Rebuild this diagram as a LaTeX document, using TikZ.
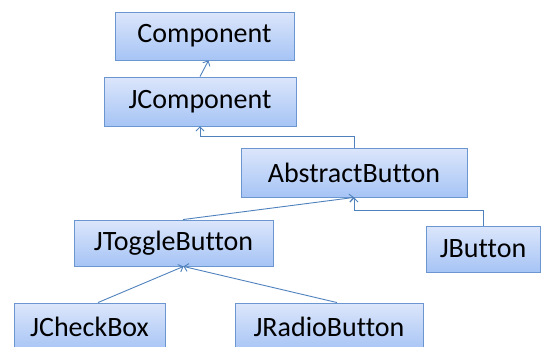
\documentclass[tikz,border=0pt]{standalone}
\usepackage{fontspec}
\setmainfont[Ligatures={NoCommon}]{Carlito}
\usetikzlibrary{arrows.meta}
\definecolor{boxtop}{HTML}{DCE6FB}
\definecolor{boxbot}{HTML}{A6C4F5}
\definecolor{boxline}{HTML}{6C96D0}
\definecolor{conn}{HTML}{4F81BD}
\begin{document}
\begin{tikzpicture}[x=1pt,y=-1pt,
  cls/.style={draw=boxline, line width=0.9pt, top color=boxtop, bottom color=boxbot,
    rectangle, inner sep=0pt, font=\fontsize{28}{30}\selectfont, text=black},
  conn/.style={draw=conn, line width=0.9pt, -{Straight Barb[length=4pt,width=8pt]}}]
\useasboundingbox (0,0) rectangle (547,346);
\node[cls, minimum width=179pt, minimum height=48pt] (comp) at (204.5,36) {Component};
\node[cls, minimum width=192pt, minimum height=49pt] (jcomp) at (200,101.5) {JComponent};
\node[cls, minimum width=226pt, minimum height=49pt] (abs) at (354,172.5) {AbstractButton};
\node[cls, minimum width=199pt, minimum height=46pt] (tog) at (173.5,243) {JToggleButton};
\node[cls, minimum width=114pt, minimum height=46pt] (btn) at (483,249) {JButton};
\node[cls, minimum width=151pt, minimum height=48pt] (chk) at (89.5,327) {JCheckBox};
\node[cls, minimum width=188pt, minimum height=48pt] (rad) at (329,327) {JRadioButton};
\draw[conn] (jcomp.north) -- ([xshift=4pt]comp.south);
\draw[conn] (abs.north) -- ++(0,-11) -| (jcomp.south);
\draw[conn] ([xshift=9.5pt]tog.north) -- (abs.south);
\draw[conn] (btn.north) -- ++(0,-15) -| (abs.south);
\draw[conn] ([xshift=8.5pt]chk.north) -- ([xshift=10pt]tog.south);
\draw[conn] ([xshift=8pt]rad.north) -- ([xshift=10pt]tog.south);
\end{tikzpicture}
\end{document}
